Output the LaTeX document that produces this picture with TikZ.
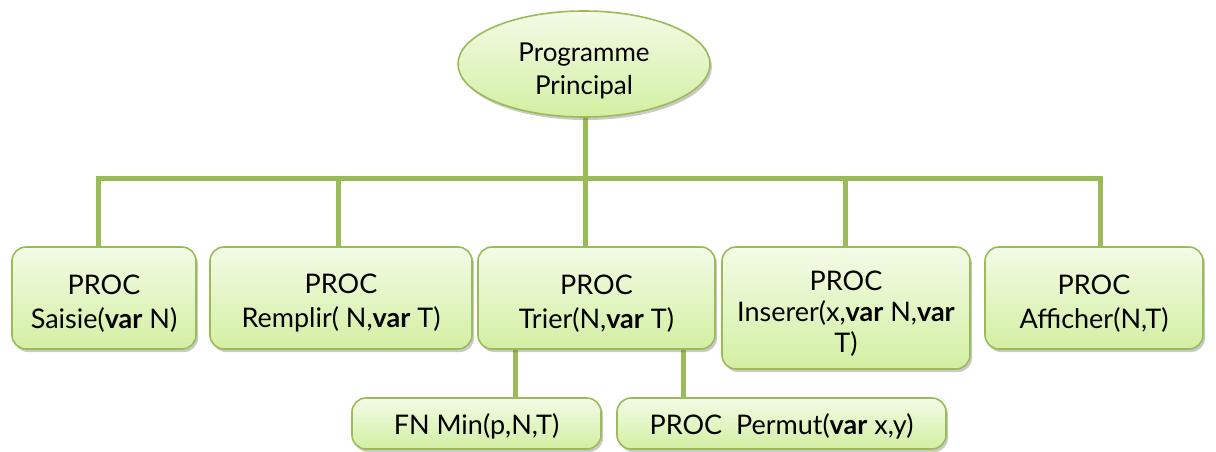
\documentclass[tikz,border=0pt]{standalone}
\usepackage{fontspec}
\setmainfont{Lato}
\usetikzlibrary{shapes.geometric,shadows,backgrounds}
\definecolor{linegreen}{HTML}{9BBB59}
\definecolor{filltop}{HTML}{F3FBE6}
\definecolor{fillbot}{HTML}{D3EFA2}
% tall strut on the first line, lowers the text block a little
\newcommand{\lowerby}[1]{\rule{0pt}{#1}}
\tikzset{
  softshadow/.style={drop shadow={shadow xshift=2pt,shadow yshift=-3pt,opacity=0.35,fill=black!60}},
  procbox/.style={draw=linegreen,line width=1.6pt,rounded corners=14pt,
    top color=filltop,bottom color=fillbot,softshadow,
    inner sep=0pt,align=center,font=\fontsize{27}{34}\selectfont},
  mainnode/.style={ellipse,draw=linegreen,line width=1.6pt,
    top color=filltop,bottom color=fillbot,softshadow,
    inner sep=0pt,align=center,font=\fontsize{26}{33}\selectfont},
  conn/.style={draw=linegreen,line width=5pt}
}
\begin{document}
\begin{tikzpicture}[x=1pt,y=-1pt]
\useasboundingbox (0,0) rectangle (1216,451);

% main program
\node[mainnode,minimum width=252pt,minimum height=106pt] (main) at (584,64)
  {\lowerby{33pt}Programme\\Principal};

% first level procedures
\node[procbox,minimum width=184pt,minimum height=102pt] (b1) at (104,298)
  {\lowerby{30pt}PROC\\Saisie(\textbf{var} N)};
\node[procbox,minimum width=262pt,minimum height=102pt] (b2) at (341,298)
  {\lowerby{30pt}PROC\\Remplir( N,\textbf{var} T)};
\node[procbox,minimum width=237pt,minimum height=102pt] (b3) at (596.5,298)
  {\lowerby{30pt}PROC\\Trier(N,\textbf{var} T)};
\node[procbox,minimum width=248pt,minimum height=122pt,font=\fontsize{27}{31}\selectfont] (b4) at (846,308)
  {\lowerby{30pt}PROC\\Inserer(x,\textbf{var} N,\textbf{var}\\T)};
\node[procbox,minimum width=218pt,minimum height=102pt] (b5) at (1094,298)
  {\lowerby{30pt}PROC\\Afficher(N,T)};

% second level, called by Trier
\node[procbox,minimum width=249pt,minimum height=51pt] (s1) at (476.5,423.5)
  {\lowerby{27pt}FN Min(p,N,T)};
\node[procbox,minimum width=329pt,minimum height=51pt] (s2) at (781.5,423.5)
  {\lowerby{27pt}PROC\ \ Permut(\textbf{var} x,y)};

% junction points of the tree
\coordinate (j1) at (98,178);
\coordinate (j2) at (338,178);
\coordinate (j3) at (585,178);
\coordinate (j4) at (845,178);
\coordinate (j5) at (1100,178);
\coordinate (k1) at (515,350);
\coordinate (k2) at (683,350);

\begin{scope}[on background layer]
  \draw[conn] (j1 |- b1.north) -- (j1) -- (j5) -- (j5 |- b5.north);
  \draw[conn] (j3 |- main.south) -- (j3) -- (j3 |- b3.north);
  \draw[conn] (j2) -- (j2 |- b2.north);
  \draw[conn] (j4) -- (j4 |- b4.north);
  \draw[conn] (k1) -- (k1 |- s1.north);
  \draw[conn] (k2) -- (k2 |- s2.north);
\end{scope}
\end{tikzpicture}
\end{document}
